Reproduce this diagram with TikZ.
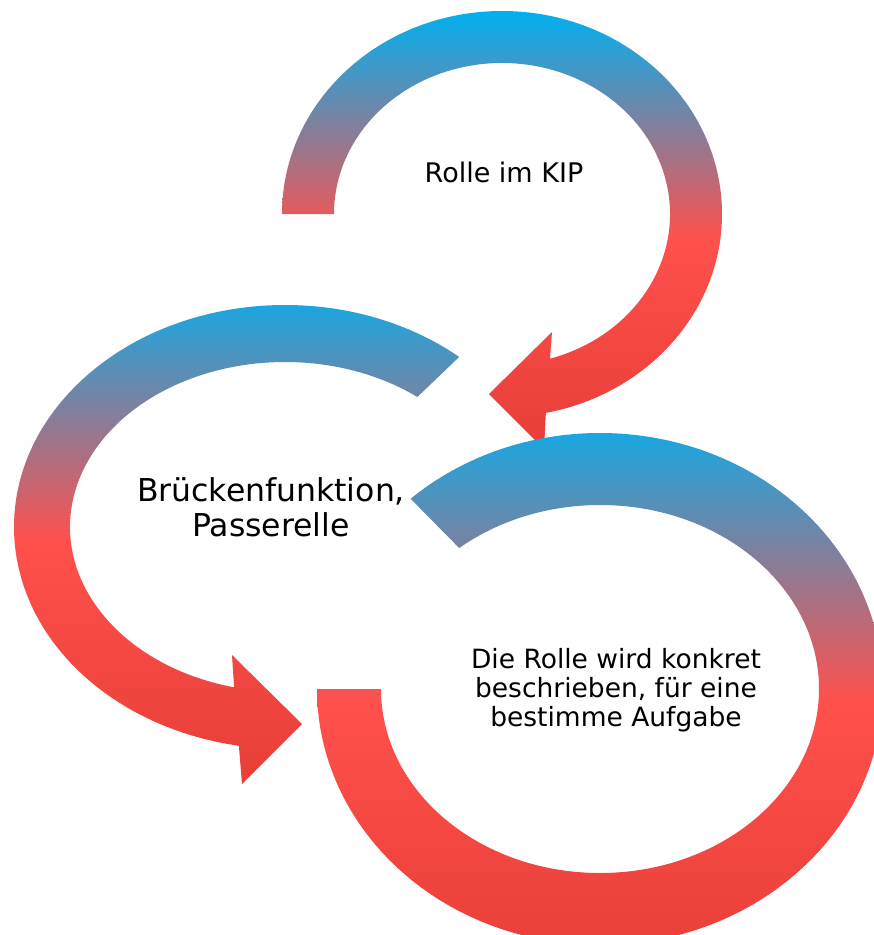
\documentclass[tikz,border=0pt]{standalone}
\usepackage{fontspec}
\setmainfont{DejaVu Sans}
\usetikzlibrary{calc}

\definecolor{arrowblue}{RGB}{0,176,240}
\definecolor{arrowred}{RGB}{255,80,76}
\definecolor{arrowdark}{RGB}{232,62,56}
\pgfdeclareverticalshading{arrowshade}{100bp}{color(0bp)=(arrowdark); color(25bp)=(arrowdark); color(49bp)=(arrowred); color(75bp)=(arrowblue); color(100bp)=(arrowblue)}

\begin{document}
\begin{tikzpicture}[
  x=1pt, y=-1pt,
  band/.style = {shading=arrowshade, draw=none},
  bandtext/.style = {align=center, text=black, inner sep=0pt}]
  \useasboundingbox (0,0) rectangle (874,935);
  \clip (0,0) rectangle (874,935);
  % upper arrow
  \coordinate (c1) at (502,214);
  \shade[band] ($(c1)+(180:220 and 203)$)
      arc[start angle=180, end angle=438.5, x radius=220, y radius=203]
      -- (544,449) -- (489,394) -- (552,332)
      -- ($(c1)+(433.4:168 and 151)$)
      arc[start angle=433.4, end angle=180, x radius=168, y radius=151] -- cycle;
  % left arrow
  \coordinate (c2) at (285,527);
  \shade[band] ($(c2)+(310:271 and 222)$)
      arc[start angle=310, end angle=99.8, x radius=271, y radius=222]
      -- (242,784) -- (302,724) -- (232,655)
      -- ($(c2)+(103.7:215 and 165)$)
      arc[start angle=103.7, end angle=308, x radius=215, y radius=165] -- cycle;
  % big arrow
  \coordinate (c3) at (600,689);
  \shade[band] ($(c3)+(228:283 and 256)$)
      arc[start angle=228, end angle=540, x radius=283, y radius=256]
      -- ($(c3)+(180:219 and 184)$)
      arc[start angle=540, end angle=230, x radius=219, y radius=184] -- cycle;

  \node[bandtext, font=\fontsize{27}{32}\selectfont] (kip) at (504,172) {Rolle im KIP};
  \node[bandtext, font=\fontsize{31.5}{35}\selectfont] (bruecke) at (271,507) {Brückenfunktion,\\Passerelle};
  \node[bandtext, font=\fontsize{26.5}{29}\selectfont] (aufgabe) at (616,690) {Die Rolle wird konkret\\beschrieben, für eine\\bestimme Aufgabe};
\end{tikzpicture}
\end{document}
